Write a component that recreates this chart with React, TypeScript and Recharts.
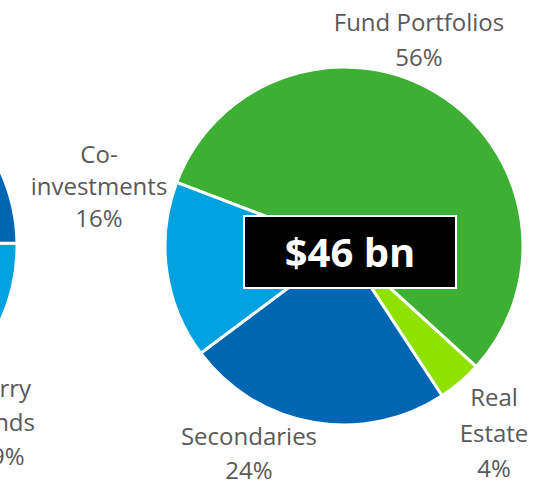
import { PieChart, Pie, Cell } from "recharts";

// main fund mix, clockwise from the co-investments border
const categories = ["Fund Portfolios", "Real Estate", "Secondaries", "Co-investments"];
const shares = [56, 4, 24, 16];
const totalLabel = "$46 bn";

// neighbouring pie, mostly off the left edge
const leftCategories = ["Carry Funds", "Other"];
const leftShares = [19, 81];

const COLORS = ["#3DAF33", "#90E000", "#0066B3", "#00A1DF"];
const LEFT_COLORS = ["#00A1DF", "#0066B3"];
const TEXT = "#595959";
const FONT = "'Open Sans', 'Noto Sans', sans-serif";

// how each label breaks and where it sits (center x, first baseline, line gap)
const wrap: Record<string, string[]> = {
   "Fund Portfolios": ["Fund Portfolios"],
   "Real Estate": ["Real", "Estate"],
   "Secondaries": ["Secondaries"],
   "Co-investments": ["Co-", "investments"],
   "Carry Funds": ["Carry", "Funds"],
};
const labelPos = [
   { x: 419, y: 31, gap: 35 },
   { x: 494, y: 406, gap: 35.5 },
   { x: 249, y: 445, gap: 34 },
   { x: 99, y: 163, gap: 32 },
];
const leftLabelPos = [{ x: 1, y: 397, gap: 34 }];

const data = categories.map((name, i) => ({ name, value: shares[i] }));
const leftData = leftCategories.map((name, i) => ({ name, value: leftShares[i] }));

const makeLabel = (pos: { x: number; y: number; gap: number }[]) => (props: any) => {
   const p = pos[props.index];
   if (!p) return null;
   const lines = [...(wrap[props.name] || [props.name]), `${props.value}%`];
   return (
      <text x={p.x} y={p.y} textAnchor="middle" fill={TEXT} fontSize={24} fontFamily={FONT}>
         {lines.map((l, i) => (
            <tspan key={i} x={p.x} dy={i === 0 ? 0 : p.gap}>{l}</tspan>
         ))}
      </text>
   );
};

const App = () => (
   <div style={{ position: "absolute", left: 0, top: 0, width: 550, height: 484, background: "#fff" }}>
      <PieChart width={550} height={484} margin={{ top: 0, right: 0, bottom: 0, left: 0 }}>
         <Pie
            data={leftData}
            dataKey="value"
            cx={-162}
            cy={246}
            outerRadius={179}
            startAngle={1}
            endAngle={-359}
            stroke="#fff"
            strokeWidth={3}
            label={makeLabel(leftLabelPos)}
            labelLine={false}
            isAnimationActive={false}
         >
            {leftData.map((_, i) => <Cell key={i} fill={LEFT_COLORS[i]} />)}
         </Pie>
         <Pie
            data={data}
            dataKey="value"
            cx={344}
            cy={246}
            outerRadius={179}
            startAngle={159.2}
            endAngle={-200.8}
            stroke="#fff"
            strokeWidth={3}
            label={makeLabel(labelPos)}
            labelLine={false}
            isAnimationActive={false}
         >
            {data.map((_, i) => <Cell key={i} fill={COLORS[i]} />)}
         </Pie>
      </PieChart>
      <div
         style={{
            position: "absolute", left: 243, top: 215, width: 210, height: 70,
            background: "#000", border: "2px solid #fff",
            display: "flex", alignItems: "center", justifyContent: "center",
            color: "#fff", fontFamily: FONT, fontWeight: 700, fontSize: 40, lineHeight: 1,
         }}
      >
         {totalLabel}
      </div>
   </div>
);

export default App;
